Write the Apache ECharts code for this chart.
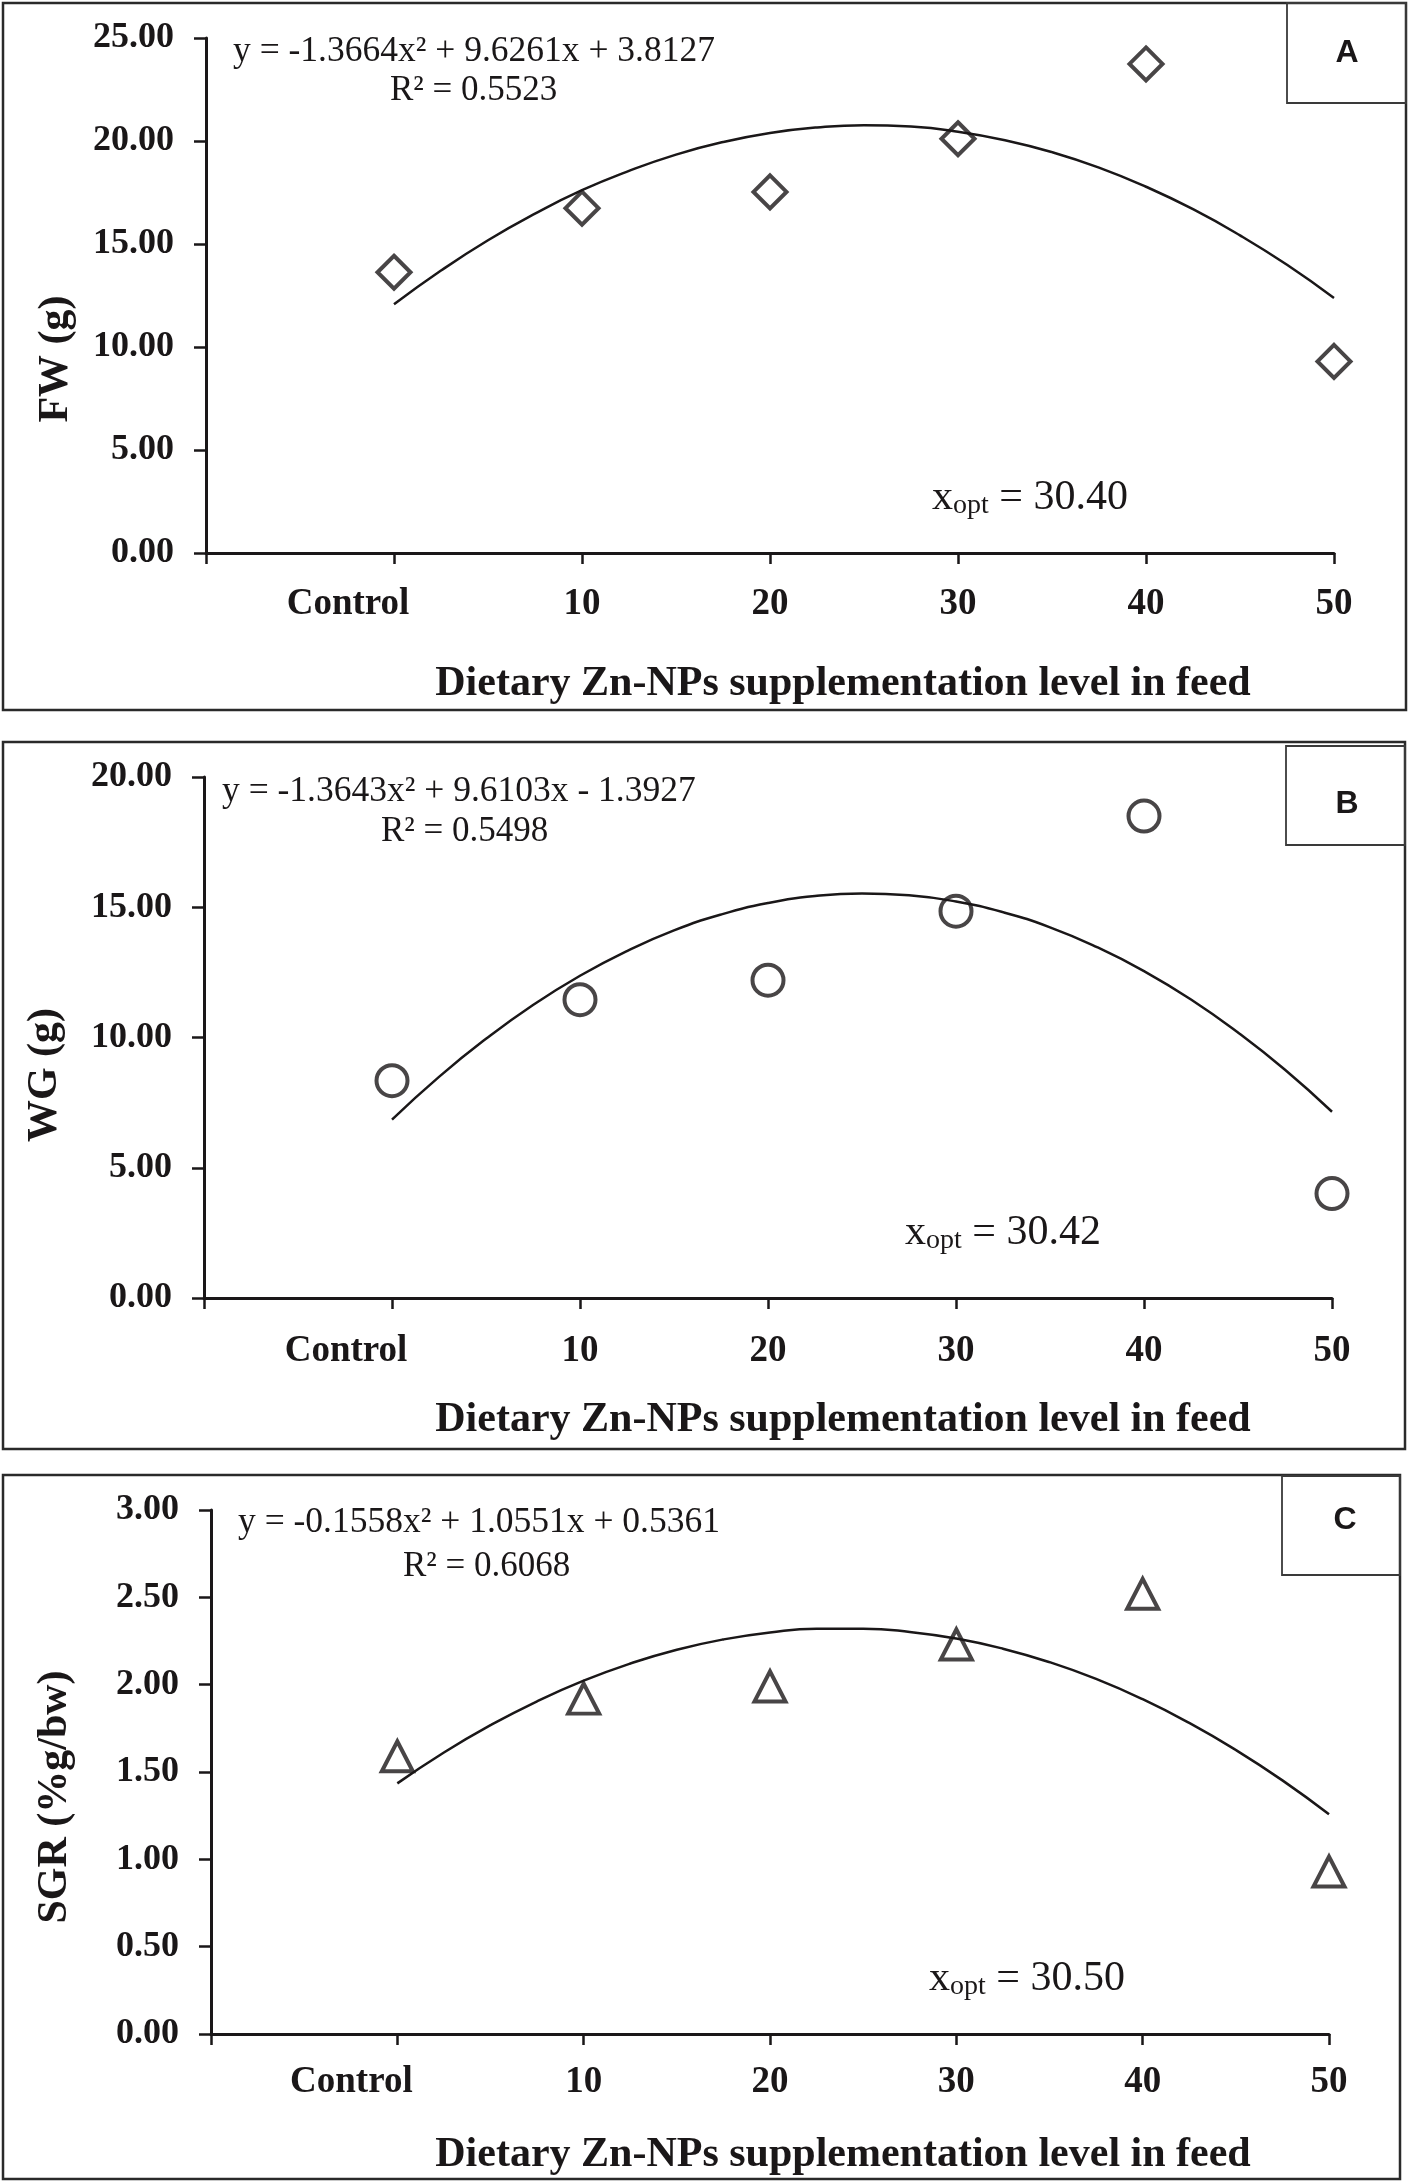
<!DOCTYPE html>
<html><head><meta charset="utf-8">
<script src="https://cdn.jsdelivr.net/npm/echarts@6/dist/echarts.min.js"></script>
<style>html,body{margin:0;padding:0;background:#fff}#c{width:1408px;height:2183px}</style>
</head><body><div id="c"></div>
<script>
// ---------------- data ----------------
const xLabels = ['Control', '10', '20', '30', '40', '50'];
const xPositions = [1, 2, 3, 4, 5, 6];
const fwValues = [13.63, 16.74, 17.53, 20.11, 23.74, 9.30];
const wgValues = [8.34, 11.45, 12.20, 14.85, 18.50, 4.01];
const sgrValues = [1.59, 1.92, 1.99, 2.23, 2.52, 0.93];
const trendX = [1, 1.25, 1.5, 1.75, 2, 2.25, 2.5, 2.75, 3, 3.25, 3.5, 3.75, 4, 4.25, 4.5, 4.75, 5, 5.25, 5.5, 5.75, 6];
const fwTrend = [12.07, 13.71, 15.18, 16.47, 17.61, 18.55, 19.34, 19.95, 20.39, 20.66, 20.77, 20.70, 20.45, 20.04, 19.46, 18.71, 17.78, 16.69, 15.42, 13.99, 12.38];
const wgTrend = [6.85, 8.49, 9.95, 11.25, 12.37, 13.32, 14.11, 14.72, 15.16, 15.43, 15.53, 15.46, 15.22, 14.81, 14.23, 13.47, 12.55, 11.46, 10.19, 8.76, 7.15];
const sgrTrend = [1.435, 1.612, 1.768, 1.905, 2.023, 2.121, 2.200, 2.259, 2.299, 2.320, 2.320, 2.302, 2.264, 2.206, 2.129, 2.033, 1.917, 1.781, 1.626, 1.452, 1.258];
const yMaxes = [25, 20, 3];
const yIntervals = [5, 5, 0.5];
const panelLetters = ['A', 'B', 'C'];
const yTitles = ['FW (g)', 'WG (g)', 'SGR (%g/bw)'];
const xTitle = 'Dietary Zn-NPs supplementation level in feed';
const equations = ['y = -1.3664x² + 9.6261x + 3.8127', 'y = -1.3643x² + 9.6103x - 1.3927', 'y = -0.1558x² + 1.0551x + 0.5361'];
const r2Texts = ['R² = 0.5523', 'R² = 0.5498', 'R² = 0.6068'];
const xoptValues = ['30.40', '30.42', '30.50'];

// ---------------- layout / style ----------------
const INK = '#1a1718';
const SERIF = "'Liberation Serif', 'Times New Roman', serif";
const SANS = "'Liberation Sans', Arial, sans-serif";
const grids = [
  {left: 206, top: 38, width: 1128, height: 515},
  {left: 204, top: 777, width: 1128, height: 521},
  {left: 211, top: 1510, width: 1118, height: 524}
];
const xLabelMargins = [33, 35, 30];
const panelRects = [
  {x: 3, y: 3, w: 1403, h: 707},
  {x: 3, y: 742, w: 1402, h: 707},
  {x: 3, y: 1475, w: 1397, h: 704}
];
const letterBoxes = [
  {x: 1287, y: 3, w: 119, h: 100, cx: 1347, cy: 53},
  {x: 1286, y: 746, w: 119, h: 99, cx: 1347, cy: 804},
  {x: 1282, y: 1476, w: 118, h: 99, cx: 1345, cy: 1520}
];
const yTitlePos = [[56, 359], [45, 1075], [55, 1797]];
const xTitlePos = [[843, 684], [843, 1420], [843, 2155]];
const eqPos = [[233, 52], [222, 792], [238, 1523]];
const r2Pos = [[390, 91], [381, 832], [403, 1567]];
const xoptPos = [[932, 498], [905, 1233], [929, 1979]];
const symbols = ['diamond', 'circle', 'triangle'];
const symbolSizes = [33, 31, [31, 30]];

const seriesValues = [fwValues, wgValues, sgrValues];
const trendValues = [fwTrend, wgTrend, sgrTrend];

const xAxes = [], yAxes = [], series = [], graphics = [];
for (let i = 0; i < 3; i++) {
  xAxes.push({
    gridIndex: i, type: 'value', min: 0, max: 6, interval: 1,
    axisLine: {show: true, lineStyle: {color: INK, width: 3}},
    axisTick: {show: true, length: 11, lineStyle: {color: INK, width: 2.5}},
    splitLine: {show: false},
    axisLabel: {
      margin: xLabelMargins[i], color: INK, fontFamily: SERIF, fontWeight: 'bold', fontSize: 37,
      formatter: function (v) {
        const k = Math.round(v);
        if (k < 1 || k > 6) return '';
        return k === 1 ? '{c|' + xLabels[0] + '}' : xLabels[k - 1];
      },
      rich: {c: {padding: [0, 92, 0, 0], color: INK, fontFamily: SERIF, fontWeight: 'bold', fontSize: 37}}
    }
  });
  yAxes.push({
    gridIndex: i, type: 'value', min: 0, max: yMaxes[i], interval: yIntervals[i],
    axisLine: {show: true, lineStyle: {color: INK, width: 3}},
    axisTick: {show: true, length: 12, lineStyle: {color: INK, width: 2.5}},
    splitLine: {show: false},
    axisLabel: {margin: 32, color: INK, fontFamily: SERIF, fontWeight: 'bold', fontSize: 36,
      formatter: v => v.toFixed(2)}
  });
  series.push({
    type: 'line', xAxisIndex: i, yAxisIndex: i, smooth: true, symbol: 'none', silent: true,
    data: trendX.map((x, j) => [x, trendValues[i][j]]),
    lineStyle: {color: INK, width: 2.5}, z: 2
  });
  series.push({
    type: 'scatter', xAxisIndex: i, yAxisIndex: i,
    symbol: symbols[i], symbolSize: symbolSizes[i],
    data: xPositions.map((x, j) => [x, seriesValues[i][j]]),
    itemStyle: {color: 'rgba(0,0,0,0)', borderColor: INK, borderWidth: 4}, z: 3
  });

  const pr = panelRects[i];
  graphics.push({type: 'rect', shape: {x: pr.x, y: pr.y, width: pr.w, height: pr.h},
    style: {fill: 'none', stroke: '#2a2a2a', lineWidth: 2.5}, z: 1});
  const lb = letterBoxes[i];
  graphics.push({type: 'rect', shape: {x: lb.x, y: lb.y, width: lb.w, height: lb.h},
    style: {fill: 'none', stroke: '#3a3a3a', lineWidth: 1.8}, z: 1});
  graphics.push({type: 'text', x: lb.cx, y: lb.cy,
    style: {text: panelLetters[i], fill: INK, fontFamily: SANS, fontWeight: 'bold', fontSize: 32,
      align: 'center', verticalAlign: 'middle', textAlign: 'center', textVerticalAlign: 'middle'}, z: 5});
  graphics.push({type: 'text', x: yTitlePos[i][0], y: yTitlePos[i][1], rotation: Math.PI / 2,
    style: {text: yTitles[i], fill: INK, fontFamily: SERIF, fontWeight: 'bold', fontSize: 42,
      align: 'center', verticalAlign: 'middle', textAlign: 'center', textVerticalAlign: 'middle'}, z: 5});
  graphics.push({type: 'text', x: xTitlePos[i][0], y: xTitlePos[i][1],
    style: {text: xTitle, fill: INK, fontFamily: SERIF, fontWeight: 'bold', fontSize: 42,
      align: 'center', verticalAlign: 'middle', textAlign: 'center', textVerticalAlign: 'middle'}, z: 5});
  graphics.push({type: 'text', x: eqPos[i][0], y: eqPos[i][1],
    style: {text: equations[i], fill: INK, fontFamily: SERIF, fontSize: 35.5,
      align: 'left', verticalAlign: 'middle', textAlign: 'left', textVerticalAlign: 'middle'}, z: 5});
  graphics.push({type: 'text', x: r2Pos[i][0], y: r2Pos[i][1],
    style: {text: r2Texts[i], fill: INK, fontFamily: SERIF, fontSize: 35,
      align: 'left', verticalAlign: 'middle', textAlign: 'left', textVerticalAlign: 'middle'}, z: 5});
  graphics.push({type: 'text', x: xoptPos[i][0], y: xoptPos[i][1],
    style: {text: '{m|x}{s|opt}{m| = ' + xoptValues[i] + '}', fill: INK,
      align: 'left', verticalAlign: 'middle', textAlign: 'left', textVerticalAlign: 'middle',
      rich: {
        m: {fontFamily: SERIF, fontSize: 42, lineHeight: 44, fill: INK, color: INK},
        s: {fontFamily: SERIF, fontSize: 28, fill: INK, color: INK, verticalAlign: 'bottom'}
      }}, z: 5});
}

const chart = echarts.init(document.getElementById('c'), null, {renderer: 'canvas'});
chart.setOption({
  animation: false,
  backgroundColor: '#ffffff',
  grid: grids.map(g => Object.assign({containLabel: false, outerBoundsMode: 'none'}, g)),
  xAxis: xAxes,
  yAxis: yAxes,
  series: series,
  graphic: graphics
});
</script>
</body></html>
